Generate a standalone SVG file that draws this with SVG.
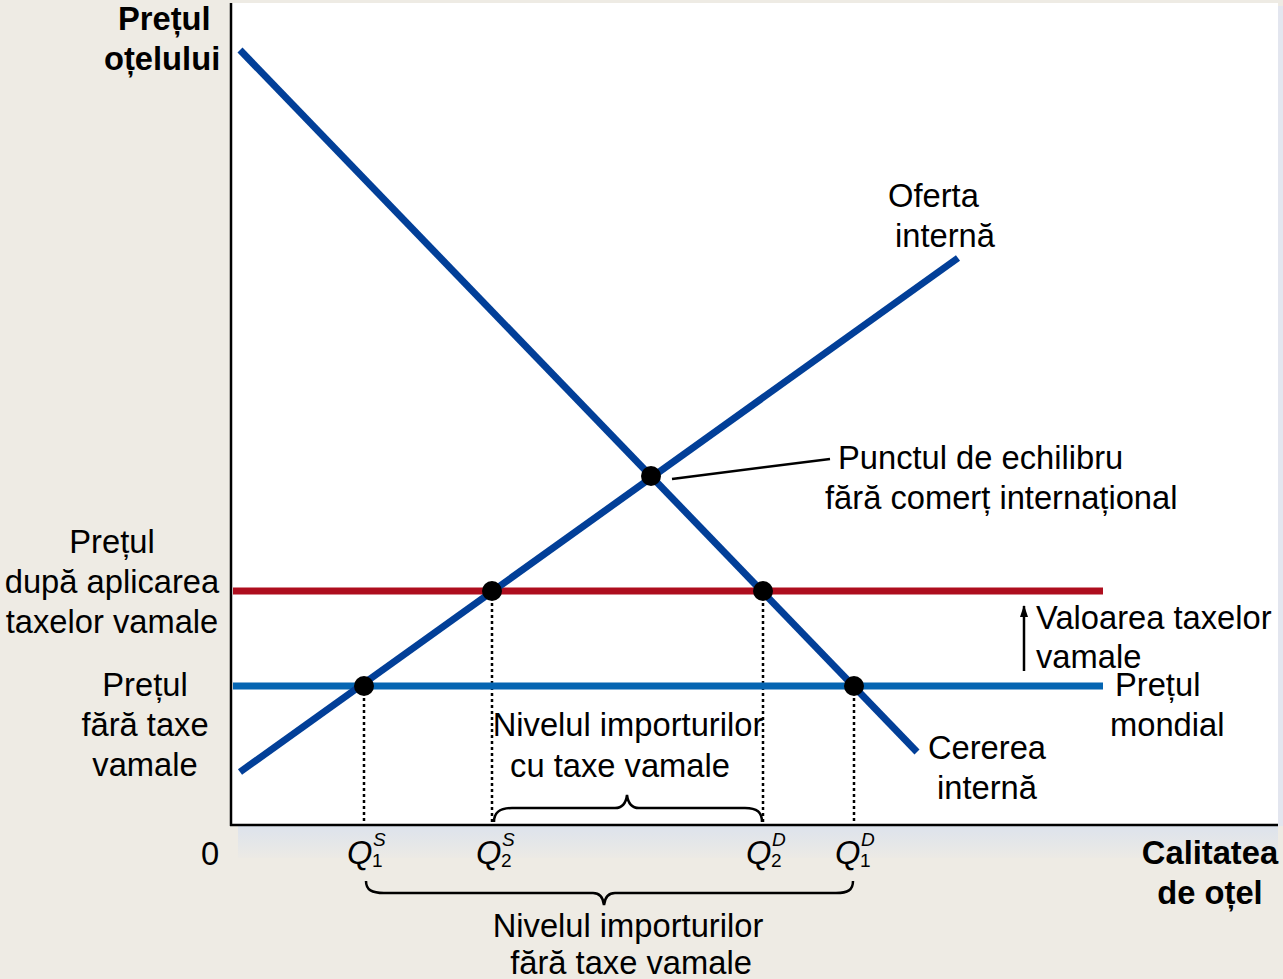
<svg xmlns="http://www.w3.org/2000/svg" width="1283" height="979" viewBox="0 0 1283 979">
<style>
text{font-family:"Liberation Sans",Arial,sans-serif;font-size:32.7px;fill:#000}
.b{font-weight:bold}
.m{text-anchor:middle}
.q{font-style:italic}
.s{font-size:19px}
.curve{stroke:#023f98;stroke-width:7;fill:none}
.dot{fill:#000}
.dash{stroke:#000;stroke-width:2.5;stroke-dasharray:3 3;fill:none}
.ln{stroke:#000;stroke-width:2.5;fill:none}
</style>
<defs>
<linearGradient id="sh" x1="0" y1="0" x2="0" y2="1">
<stop offset="0" stop-color="#dde3ec"/>
<stop offset="1" stop-color="#eceae5"/>
</linearGradient>
<marker id="ah" markerWidth="12" markerHeight="10" refX="11" refY="5" orient="auto" markerUnits="userSpaceOnUse" viewBox="0 0 12 10">
<path d="M0,1 L12,5 L0,9 Z" fill="#000"/>
</marker>
</defs>
<rect width="1283" height="979" fill="#eeebe4"/>
<rect x="1278" y="6" width="5" height="820" fill="#e3e6ef"/>
<rect x="238" y="826" width="1040" height="32" fill="url(#sh)"/>
<rect x="231" y="3" width="1047" height="822" fill="#fff"/>
<g id="axes">
<line x1="231" y1="3" x2="231" y2="826" class="ln"/>
<line x1="230" y1="825" x2="1278" y2="825" class="ln"/>
</g>
<g id="connectors">
<line class="dash" x1="364" y1="686" x2="364" y2="825"/>
<line class="dash" x1="492" y1="591" x2="492" y2="825"/>
<line class="dash" x1="763" y1="591" x2="763" y2="825"/>
<line class="dash" x1="854" y1="686" x2="854" y2="825"/>
<line class="ln" x1="672" y1="479" x2="830" y2="459"/>
<line class="ln" x1="1024" y1="671" x2="1024" y2="606" marker-end="url(#ah)"/>
<path class="ln" d="M494,822 C494,812 500,808 512,808 L615,808 C622,808 626,803 627,795 C628,803 632,808 639,808 L745,808 C757,808 762,812 762,822"/>
<path class="ln" d="M366,881 C366,890 372,893 384,893 L593,893 C600,893 603,897 604,905 C605,897 608,893 615,893 L836,893 C848,893 853,890 853,881"/>
</g>
<g id="tariff-price">
<line x1="233" y1="591" x2="1103" y2="591" stroke="#ae0e1e" stroke-width="7"/>
</g>
<g id="world-price">
<line x1="233" y1="686" x2="1103" y2="686" stroke="#0565b2" stroke-width="7"/>
</g>
<g id="demand">
<line class="curve" x1="240" y1="50" x2="917" y2="752"/>
</g>
<g id="supply">
<line class="curve" x1="240" y1="772" x2="958" y2="258"/>
</g>
<g id="points">
<circle class="dot" cx="364" cy="686" r="10"/>
<circle class="dot" cx="492" cy="591" r="10"/>
<circle class="dot" cx="651" cy="476" r="10"/>
<circle class="dot" cx="763" cy="591" r="10"/>
<circle class="dot" cx="854" cy="686" r="10"/>
</g>
<g id="labels">
<text class="b" x="118" y="30">Prețul</text>
<text class="b" x="104" y="70">oțelului</text>
<text x="888" y="207">Oferta</text>
<text x="895" y="247">internă</text>
<text x="838" y="469">Punctul de echilibru</text>
<text x="825" y="509">fără comerț internațional</text>
<text class="m" x="112" y="553">Prețul</text>
<text class="m" x="112" y="593">după aplicarea</text>
<text class="m" x="112" y="633">taxelor vamale</text>
<text class="m" x="145" y="696">Prețul</text>
<text class="m" x="145" y="736">fără taxe</text>
<text class="m" x="145" y="776">vamale</text>
<text x="1036" y="629">Valoarea taxelor</text>
<text x="1036" y="668">vamale</text>
<text x="1115" y="696">Prețul</text>
<text x="1110" y="736">mondial</text>
<text class="m" x="628" y="736">Nivelul importurilor</text>
<text class="m" x="620" y="777">cu taxe vamale</text>
<text class="m" x="987" y="759">Cererea</text>
<text class="m" x="987" y="799">internă</text>
<text x="201" y="865">0</text>
<text class="b m" x="1210" y="864">Calitatea</text>
<text class="b m" x="1210" y="904">de oțel</text>
<text class="m" x="628" y="937">Nivelul importurilor</text>
<text class="m" x="631" y="974">fără taxe vamale</text>
</g>
<g id="q-labels">
<text class="q" x="347" y="864">Q</text><text class="q s" x="373" y="846">S</text><text class="s" x="372" y="867">1</text>
<text class="q" x="476" y="864">Q</text><text class="q s" x="502" y="846">S</text><text class="s" x="501" y="867">2</text>
<text class="q" x="746" y="864">Q</text><text class="q s" x="772" y="846">D</text><text class="s" x="771" y="867">2</text>
<text class="q" x="835" y="864">Q</text><text class="q s" x="861" y="846">D</text><text class="s" x="860" y="867">1</text>
</g>
</svg>
